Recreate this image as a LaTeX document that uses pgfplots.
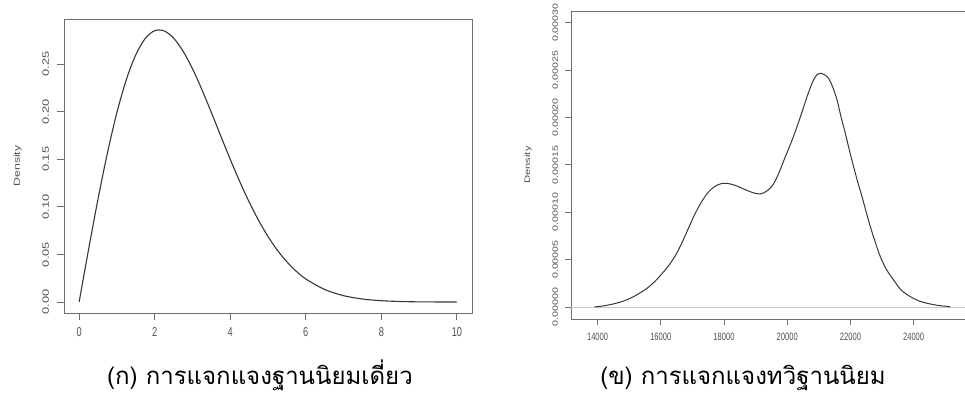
\documentclass[border=0pt]{standalone}
\usepackage{pgfplots}
\pgfplotsset{compat=1.18}
\usepackage{fontspec}
\setmainfont{Liberation Sans}
\newfontfamily\thaifont[Script=Thai]{Loma}
\definecolor{boxgray}{RGB}{110,110,110}
\definecolor{labgray}{RGB}{80,80,80}
\definecolor{curvegray}{RGB}{55,55,55}
\definecolor{basegray}{RGB}{200,200,200}
\begin{document}
\begin{tikzpicture}
\pgfplotsset{
  rstyle/.style={
    scale only axis,
    anchor=south west,
    axis line style={boxgray, line width=0.9bp},
    every tick/.style={boxgray, line width=0.9bp},
    tick align=outside,
    tick pos=left,
    major tick length=7bp,
    label style={text=labgray},
    tick label style={text=labgray},
    yticklabel style={rotate=90, xscale=1.4, anchor=south},
    xticklabel style={yscale=1.4},
  }
}
% ---------- left panel ----------
\begin{axis}[rstyle,
  at={(64bp,81bp)}, width=408bp, height=294bp,
  xmin=-0.4, xmax=10.4, ymin=-0.0115, ymax=0.2975,
  xtick={0,2,4,6,8,10}, xticklabels={0,2,4,6,8,10},
  ytick={0,0.05,0.10,0.15,0.20,0.25},
  yticklabels={0.00,0.05,0.10,0.15,0.20,0.25},
  tick label style={font=\fontsize{9.2bp}{10bp}\selectfont},
  xticklabel shift=3bp, yticklabel shift=4.5bp,
  ylabel={Density},
  ylabel style={font=\fontsize{8.8bp}{10bp}\selectfont, at={(axis description cs:-0.114,0.5)}, anchor=center, xscale=1.4},
]
\addplot[curvegray, line width=1.1bp, smooth] coordinates {
(0,0) (0.25,0.0552) (0.5,0.1082) (0.75,0.1568) (1.0,0.1991) (1.25,0.2338)
(1.5,0.2599) (1.75,0.2770) (2.0,0.2852) (2.25,0.2850) (2.5,0.2775)
(2.75,0.2638) (3.0,0.2453) (3.25,0.2233) (3.5,0.1993) (3.75,0.1745)
(4.0,0.1501) (4.25,0.1268) (4.5,0.1053) (4.75,0.0859) (5.0,0.0689)
(5.25,0.0544) (5.5,0.0423) (5.75,0.0323) (6.0,0.0243) (6.5,0.0132)
(7.0,0.0067) (7.5,0.0032) (8.0,0.0014) (8.5,0.0006) (9.0,0.0002)
(9.5,0.0001) (10.0,0.0000)};
\end{axis}
% ---------- right panel ----------
\begin{axis}[rstyle,
  at={(571bp,75bp)}, width=399.5bp, height=308bp,
  xmin=13158, xmax=25800, ymin=-0.0000127, ymax=0.0003123,
  xtick={14000,16000,18000,20000,22000,24000},
  xticklabels={14000,16000,18000,20000,22000,24000},
  ytick={0,0.00005,0.0001,0.00015,0.0002,0.00025,0.0003},
  yticklabels={0.00000,0.00005,0.00010,0.00015,0.00020,0.00025,0.00030},
  scaled ticks=false,
  major tick length=6bp,
  tick label style={font=\fontsize{7.6bp}{8bp}\selectfont},
  xticklabel shift=3.5bp, yticklabel shift=3.5bp,
  ylabel={Density},
  ylabel style={font=\fontsize{8bp}{9bp}\selectfont, at={(axis description cs:-0.1076,0.5)}, anchor=center, xscale=1.4},
]
\addplot[basegray, line width=0.8bp] coordinates {(13158,0) (25800,0)};
\addplot[curvegray, line width=1.0bp, smooth] coordinates {
(13900,0) (14200,0.0000012) (14500,0.0000032) (14800,0.0000060)
(15035,0.0000092) (15300,0.0000140) (15563,0.0000197) (15800,0.0000265)
(16100,0.0000375) (16300,0.0000460) (16500,0.0000565) (16700,0.0000700)
(16900,0.0000850) (17100,0.0000995) (17300,0.0001115) (17500,0.0001210)
(17700,0.0001270) (17900,0.0001300) (18050,0.0001305) (18200,0.0001298)
(18411,0.0001276) (18600,0.0001248)
(18832,0.0001216) (19000,0.0001198) (19120,0.0001193) (19250,0.0001203)
(19400,0.0001235) (19570,0.0001300) (19750,0.0001425) (19940,0.0001585)
(20130,0.0001740) (20310,0.0001902) (20470,0.0002060) (20627,0.0002218)
(20760,0.0002340) (20889,0.0002429) (20980,0.0002460) (21070,0.0002465)
(21180,0.0002450) (21310,0.0002412) (21440,0.0002320) (21576,0.0002184)
(21700,0.0002010) (21839,0.0001832) (21970,0.0001650) (22101,0.0001480)
(22230,0.0001320) (22367,0.0001164) (22500,0.0001000) (22630,0.0000847)
(22790,0.0000680) (22946,0.0000531) (23150,0.0000390) (23367,0.0000285)
(23600,0.0000180) (23896,0.0000109) (24150,0.0000066) (24424,0.0000039)
(24800,0.0000015) (25161,0.0000003)};
\end{axis}
% ---------- captions ----------
\node[anchor=base, font=\thaifont\fontsize{24bp}{28bp}\selectfont] at (260bp,10bp) {(ก) การแจกแจงฐานนิยมเดี่ยว};
\node[anchor=base, font=\thaifont\fontsize{24bp}{28bp}\selectfont] at (743bp,10bp) {(ข) การแจกแจงทวิฐานนิยม};
\pgfresetboundingbox
\path[use as bounding box] (0,0) rectangle (965bp,394bp);
\end{tikzpicture}
\end{document}
